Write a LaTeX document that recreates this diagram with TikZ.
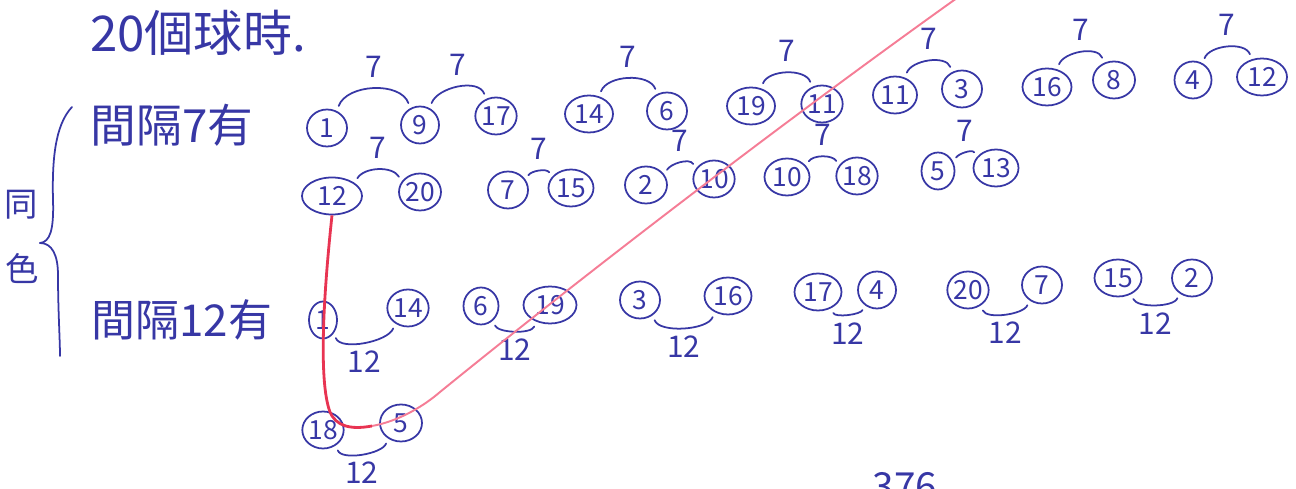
\documentclass[tikz,border=0pt]{standalone}
\usepackage{fontspec}
\setmainfont{Noto Sans CJK TC}
\usetikzlibrary{shapes.geometric}
\definecolor{ink}{RGB}{55,55,165}
\definecolor{redpen}{RGB}{232,52,82}
\definecolor{pinkpen}{RGB}{245,125,150}
\begin{document}
\begin{tikzpicture}[x=0.2mm,y=-0.2mm,
    ball/.style={draw=ink, ellipse, line width=1pt, inner sep=0pt, minimum height=0.74cm, text=ink, font=\fontsize{15}{15}\selectfont},
    penline/.style={draw=ink, line width=1pt, line cap=round},
    seven/.style={above=3pt, text=ink, font=\fontsize{17}{17}\selectfont},
    twelve/.style={below=1pt, text=ink, font=\fontsize{17}{17}\selectfont},
    hand/.style={text=ink, inner sep=0pt}]
    \useasboundingbox (0,0) rectangle (1296,489);
    \clip (0,0) rectangle (1296,489);
    \node[hand, font=\fontsize{28}{28}\selectfont] (title) at (198,33) {20個球時.};
    \node[hand, font=\fontsize{26}{26}\selectfont] (gap7) at (172,125) {間隔7有};
    \node[hand, font=\fontsize{25}{25}\selectfont] (gap12) at (182,320) {間隔12有};
    \node[hand, font=\fontsize{19}{19}\selectfont] (same) at (21,205) {同};
    \node[hand, font=\fontsize{19}{19}\selectfont] (colour) at (22,268) {色};
    \draw[penline] (72,107) .. controls (55,125) and (52,160) .. (53,200) .. controls (54,230) and (50,242) .. (40,243);
    \draw[penline] (40,243) .. controls (52,243) and (58,255) .. (58,275) .. controls (58,310) and (60,340) .. (60,356);
    \foreach \n/\x/\y/\t/\w in {a1/327/128/1/40, a2/420/125/9/38, a3/496/116/17/38, a4/589/114/14/48,
        a5/667/111/6/40, a6/751/106/19/48, a7/822/104/11/36, a8/895/95/11/44, a9/962/89/3/40,
        a10/1047/87/16/49, a11/1114/80/8/42, a12/1193/80/4/37, a13/1262/77/12/50,
        b1/332/196/12/60, b2/420/192/20/42, b3/508/190/7/40, b4/571/188/15/45, b5/646/185/2/42,
        b6/714/179/10/38, b7/787/177/10/45, b8/857/176/18/40, b9/938/171/5/33, b10/996/168/13/45,
        c1/323/320/1/28, c2/408/308/14/40, c3/481/306/6/35, c4/550/305/19/53, c5/640/300/3/40,
        c6/728/296/16/47, c7/818/292/17/47, c8/877/290/4/38, c9/968/290/20/39, c10/1042/285/7/40,
        c11/1118/278/15/47, c12/1192/278/2/40,
        d1/323/430/18/40, d2/401/423/5/42} {
        \node[ball, minimum width={\w*0.2mm}] (\n) at (\x,\y) {\t};
    }
    \foreach \p/\q in {a1/a2, a2/a3, a4/a5, a6/a7, a8/a9, a10/a11, a12/a13} {
        \draw[penline, shorten <=3pt, shorten >=3pt] (\p.60) to[out=70,in=110] node[seven, midway] {7} (\q.120);
    }
    \foreach \p/\q in {b1/b2, b3/b4, b5/b6, b7/b8, b9/b10} {
        \draw[penline, shorten <=3pt, shorten >=3pt] (\p.30) to[out=60,in=120] node[seven, midway] {7} (\q.150);
    }
    \foreach \p/\q in {c1/c2, c3/c4, c5/c6, c7/c8, c9/c10, c11/c12, d1/d2} {
        \draw[penline, shorten <=3pt, shorten >=3pt] (\p.-50) to[out=-70,in=-110,looseness=0.8] node[twelve, midway] {12} (\q.-130);
    }
    \coordinate (bend) at (372,426);
    \coordinate (redend) at (957,-2);
    \draw[redpen, line width=1.6pt] (b1.south) .. controls (324,290) and (318,380) .. (330,412) .. controls (336,426) and (350,430) .. (bend);
    \draw[pinkpen, line width=1.1pt] (bend) .. controls (400,421) and (425,405) .. (440,392) .. controls (600,262) and (800,110) .. (redend);
    \node[hand, font=\fontsize{22}{22}\selectfont, anchor=north] (cut) at (905,472) {376};
\end{tikzpicture}
\end{document}
